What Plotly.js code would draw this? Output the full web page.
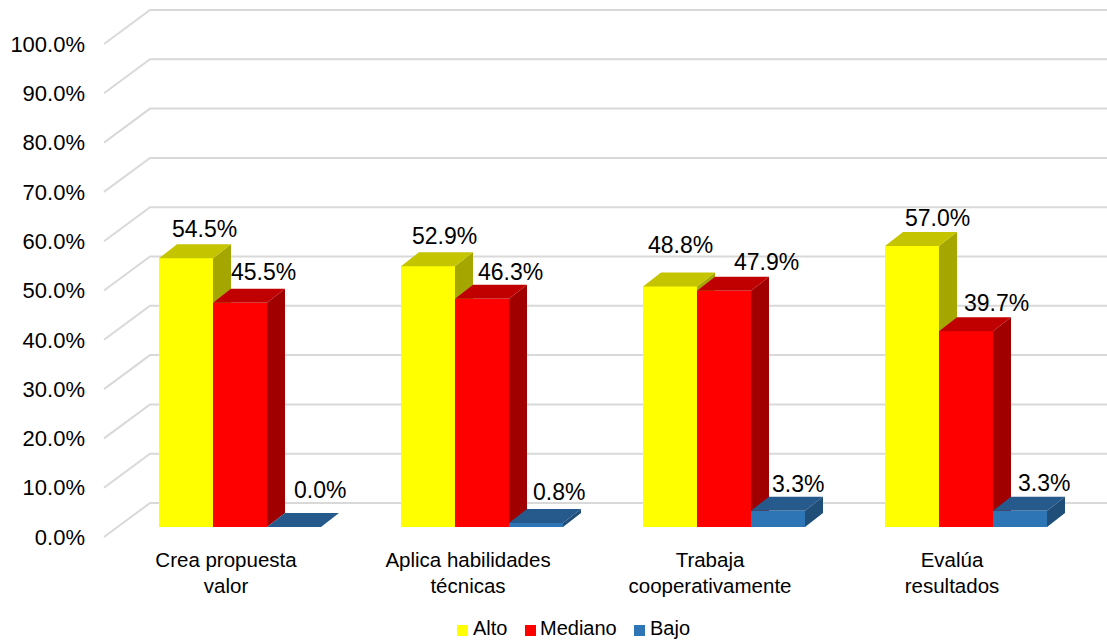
<!DOCTYPE html>
<html><head><meta charset="utf-8">
<script src="https://cdn.plot.ly/plotly-3.0.1.min.js"></script>
<style>html,body{margin:0;padding:0;background:#fff}#c{width:1107px;height:640px}</style>
</head><body><div id="c"></div>
<script>
// --- data ---
const categories = ["Crea propuesta<br>valor","Aplica habilidades<br>técnicas","Trabaja<br>cooperativamente","Evalúa<br>resultados"];
const seriesNames = ["Alto","Mediano","Bajo"];
const alto = [54.5,52.9,48.8,57.0];
const mediano = [45.5,46.3,47.9,39.7];
const bajo = [0.0,0.8,3.3,3.3];
const gridLevels = [0,10,20,30,40,50,60,70,80,90,100];
// --- styles ---
const frontColors = ["#FFFF00","#FF0000","#2E75B6"];
const topColors = ["#C4C400","#C00000","#265A8C"];
const sideColors = ["#A6A600","#A00000","#1F4E79"];
const labelShiftX = [[18,23,26],[16,28,23],[10,42,20],[25,30,24]];
const labelShiftY = [[29,31,37],[30,27,31],[41,29,27],[28,28,28]];
const legendSwatchPx = [457,525,634];
const legendTextPx = [473,540,650];
// --- geometry (px → data) ---
const W=1107,H=640,mL=86,mB=95,pxPerCat=242,pxPerPct=4.93,center0=240,base0=527;
const xr=[(mL-center0)/pxPerCat,(W-center0)/pxPerCat];
const yr=[(base0-(H-mB))/pxPerPct,base0/pxPerPct];
const barW=54/pxPerCat, dX=18/pxPerCat, dY=14/pxPerPct;
const seriesVals=[alto,mediano,bajo];
const traces=[];
// gridlines
const gx=[],gy=[];
gridLevels.forEach(v=>{
  gx.push((104-center0)/pxPerCat,(150-center0)/pxPerCat,xr[1],null);
  gy.push(v-10/pxPerPct,v+24/pxPerPct,v+24/pxPerPct,null);
});
traces.push({type:"scatter",mode:"lines",x:gx,y:gy,line:{color:"#D9D9D9",width:2},showlegend:false,hoverinfo:"skip"});
seriesVals.forEach((vals,s)=>{
  const ax=s+2;
  const xa="x"+ax, ya="y"+ax;
  const xc=vals.map((_,i)=>i+(s-1)*barW);
  const tx=[],ty=[],sx=[],sy=[];
  vals.forEach((v,i)=>{
    const l=xc[i]-barW/2,r=xc[i]+barW/2;
    tx.push(l,r,r+dX,l+dX,l,null); ty.push(v,v,v+dY,v+dY,v,null);
    sx.push(r,r+dX,r+dX,r,r,null); sy.push(0,dY,v+dY,v,0,null);
  });
  traces.push({type:"bar",x:xc,y:vals,width:barW,name:seriesNames[s],xaxis:xa,yaxis:ya,marker:{color:frontColors[s],line:{width:0}},hoverinfo:"y",showlegend:false});
  traces.push({type:"scatter",mode:"lines",x:sx,y:sy,fill:"toself",fillcolor:sideColors[s],line:{width:0,color:sideColors[s]},xaxis:xa,yaxis:ya,showlegend:false,hoverinfo:"skip"});
  traces.push({type:"scatter",mode:"lines",x:tx,y:ty,fill:"toself",fillcolor:topColors[s],line:{width:0,color:topColors[s]},xaxis:xa,yaxis:ya,showlegend:false,hoverinfo:"skip"});
});
const annotations=[];
seriesVals.forEach((vals,s)=>vals.forEach((v,i)=>{
  annotations.push({xref:"x",yref:"y",x:i+(s-1)*barW,y:v,text:v.toFixed(1)+"%",showarrow:false,
    xanchor:"center",yanchor:"middle",xshift:labelShiftX[i][s],yshift:labelShiftY[i][s],
    font:{family:"Liberation Sans, Arial, sans-serif",size:23,color:"#000"}});
}));
// compact legend
const px2x=p=>(p-mL)/(W-mL), px2y=p=>(H-mB-p)/(H-mB);
const shapes=[];
seriesNames.forEach((n,s)=>{
  shapes.push({type:"rect",xref:"paper",yref:"paper",x0:px2x(legendSwatchPx[s]),x1:px2x(legendSwatchPx[s]+11),y0:px2y(636),y1:px2y(625),fillcolor:frontColors[s],line:{width:0}});
  annotations.push({xref:"paper",yref:"paper",x:px2x(legendTextPx[s]),y:px2y(627.5),text:n,showarrow:false,xanchor:"left",yanchor:"middle",xshift:-2,
    font:{family:"Liberation Sans, Arial, sans-serif",size:20,color:"#000"}});
});
const hiddenX={range:xr,visible:false,overlaying:"x",fixedrange:true};
const hiddenY={range:yr,visible:false,overlaying:"y",fixedrange:true};
const layout={
  width:W,height:H,margin:{l:mL,r:0,t:0,b:mB},paper_bgcolor:"#fff",plot_bgcolor:"#fff",
  font:{family:"Liberation Sans, Arial, sans-serif",color:"#000"},
  bargap:0,showlegend:false,
  xaxis:{range:xr,tickvals:categories.map((_,i)=>i-14/pxPerCat),ticktext:categories,showgrid:false,zeroline:false,showline:false,ticks:"",tickfont:{size:20.5},tickangle:0,fixedrange:true},
  yaxis:{range:yr,tickvals:gridLevels.map(v=>v-10/pxPerPct),ticktext:gridLevels.map(v=>v.toFixed(1)+"%"),showgrid:false,zeroline:false,showline:false,ticks:"",tickfont:{size:22},fixedrange:true},
  xaxis2:hiddenX,xaxis3:hiddenX,xaxis4:hiddenX,yaxis2:hiddenY,yaxis3:hiddenY,yaxis4:hiddenY,
  annotations:annotations,shapes:shapes
};
Plotly.newPlot("c",traces,layout,{displayModeBar:false,staticPlot:true});
</script></body></html>
